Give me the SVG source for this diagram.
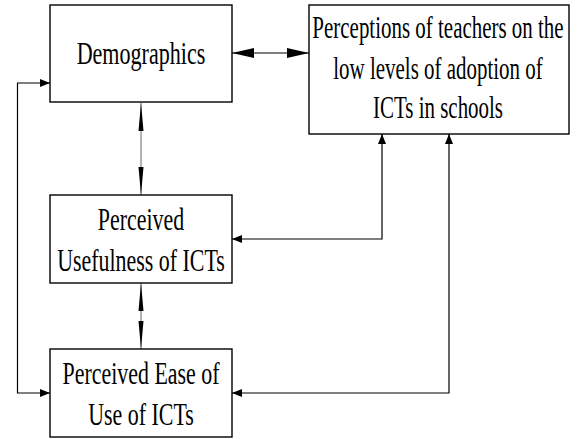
<svg xmlns="http://www.w3.org/2000/svg" width="579" height="439" viewBox="0 0 579 439">
<style>
.box{fill:#fff;stroke:#000;stroke-width:1.4}
.lbl{font-family:"Liberation Serif","Times New Roman",serif;font-size:32px;fill:#000;text-anchor:middle}
.con{fill:none;stroke:#000;stroke-width:1.2}
.gray{stroke:#808080}
</style>
<defs>
<marker id="big" viewBox="0 0 22 10" refX="22" refY="5" markerWidth="22" markerHeight="10" markerUnits="userSpaceOnUse" orient="auto-start-reverse"><path d="M0,0 L22,5 L0,10 z" fill="#000"/></marker>
<marker id="thin" viewBox="0 0 28 6" refX="28" refY="3" markerWidth="28" markerHeight="6" markerUnits="userSpaceOnUse" orient="auto-start-reverse"><path d="M0,0.5 L28,3 L0,5.5 z" fill="#000"/></marker>
<marker id="small" viewBox="0 0 10 8" refX="10" refY="4" markerWidth="10" markerHeight="8" markerUnits="userSpaceOnUse" orient="auto-start-reverse"><path d="M0,0 L10,4 L0,8 z" fill="#000"/></marker>
</defs>
<rect width="579" height="439" fill="#fff"/>
<g id="connectors">
<line class="con" x1="232" y1="53" x2="309" y2="53" stroke-width="1.6" marker-start="url(#big)" marker-end="url(#big)"/>
<line class="con gray" x1="141" y1="103" x2="141" y2="195" marker-start="url(#thin)" marker-end="url(#thin)"/>
<line class="con gray" x1="141" y1="283" x2="141" y2="349" marker-start="url(#thin)" marker-end="url(#thin)"/>
<path class="con" d="M50,83 H17.5 V393 H50" marker-start="url(#small)" marker-end="url(#small)"/>
<path class="con" d="M382,134 V239 H232" marker-start="url(#small)" marker-end="url(#small)"/>
<path class="con" d="M449,134 V393 H232" marker-start="url(#small)" marker-end="url(#small)"/>
</g>
<g id="demographics">
<rect class="box" x="50" y="5" width="182" height="97"/>
<text class="lbl" transform="translate(141,64) scale(0.69,1)">Demographics</text>
</g>
<g id="perceptions">
<rect class="box" x="309" y="5" width="260" height="129"/>
<text class="lbl" transform="translate(438,38) scale(0.655,1)">Perceptions of teachers on the</text>
<text class="lbl" transform="translate(438,79) scale(0.655,1)">low levels of adoption of</text>
<text class="lbl" transform="translate(438,118) scale(0.655,1)">ICTs in schools</text>
</g>
<g id="usefulness">
<rect class="box" x="50" y="195" width="182" height="88"/>
<text class="lbl" transform="translate(141,230) scale(0.685,1)">Perceived</text>
<text class="lbl" transform="translate(141,271) scale(0.685,1)">Usefulness of ICTs</text>
</g>
<g id="ease">
<rect class="box" x="50" y="349" width="182" height="88"/>
<text class="lbl" transform="translate(141,384) scale(0.685,1)">Perceived Ease of</text>
<text class="lbl" transform="translate(141,425) scale(0.685,1)">Use of ICTs</text>
</g>
</svg>
